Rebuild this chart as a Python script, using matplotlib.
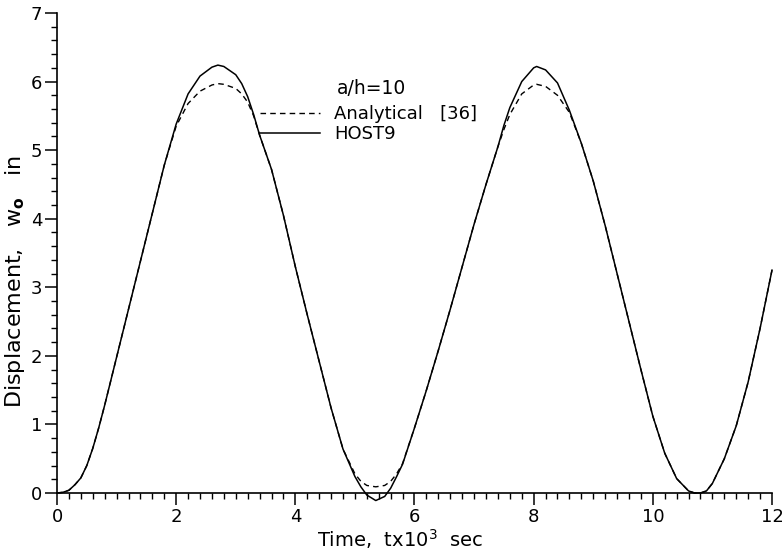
import matplotlib
matplotlib.use("Agg")
import matplotlib.pyplot as plt
from matplotlib.lines import Line2D
from matplotlib.ticker import MultipleLocator

# time, x10^3 sec
t = [0.0, 0.1, 0.2, 0.3, 0.4, 0.5, 0.6, 0.7, 0.8, 1.0, 1.2, 1.4, 1.6, 1.8, 2.0,
     2.2, 2.4, 2.6, 2.7, 2.8, 3.0, 3.1, 3.2, 3.3, 3.4, 3.6, 3.8, 4.0, 4.2, 4.4,
     4.6, 4.8, 5.0, 5.1, 5.2, 5.35, 5.5, 5.6, 5.7, 5.8, 6.0, 6.2, 6.4, 6.6, 6.8,
     7.0, 7.2, 7.4, 7.5, 7.6, 7.8, 8.0, 8.05, 8.2, 8.4, 8.6, 8.8, 9.0, 9.2, 9.4,
     9.6, 9.8, 10.0, 10.2, 10.4, 10.6, 10.7, 10.8, 10.9, 11.0, 11.2, 11.4, 11.6,
     11.8, 12.0]

# HOST9 displacement, in
host9 = [0.0, 0.01, 0.04, 0.12, 0.22, 0.40, 0.65, 0.95, 1.28, 1.98, 2.68, 3.38,
         4.08, 4.78, 5.38, 5.82, 6.08, 6.21, 6.24, 6.22, 6.10, 5.97, 5.78, 5.52,
         5.22, 4.72, 4.05, 3.30, 2.60, 1.92, 1.24, 0.64, 0.24, 0.09, -0.03, -0.11,
         -0.05, 0.07, 0.24, 0.42, 0.95, 1.50, 2.08, 2.68, 3.30, 3.92, 4.50, 5.05,
         5.36, 5.62, 6.00, 6.20, 6.22, 6.17, 5.98, 5.58, 5.10, 4.55, 3.90, 3.20,
         2.50, 1.80, 1.12, 0.58, 0.21, 0.03, 0.0, 0.0, 0.03, 0.14, 0.50, 0.98,
         1.62, 2.40, 3.25]

# Analytical [36]
analytical = [0.0, 0.01, 0.04, 0.12, 0.22, 0.40, 0.65, 0.95, 1.28, 1.98, 2.68,
              3.38, 4.08, 4.78, 5.35, 5.68, 5.86, 5.95, 5.97, 5.96, 5.90, 5.82,
              5.70, 5.50, 5.22, 4.72, 4.05, 3.30, 2.60, 1.92, 1.24, 0.64, 0.28,
              0.17, 0.11, 0.09, 0.11, 0.17, 0.28, 0.43, 0.95, 1.50, 2.08, 2.68,
              3.30, 3.92, 4.50, 5.05, 5.30, 5.52, 5.82, 5.95, 5.96, 5.93, 5.80,
              5.55, 5.10, 4.55, 3.90, 3.20, 2.50, 1.80, 1.12, 0.58, 0.21, 0.03,
              0.0, 0.0, 0.03, 0.14, 0.50, 0.98, 1.62, 2.40, 3.25]

plt.rcParams['font.family'] = ['DejaVu Sans']
plt.rcParams['mathtext.fontset'] = 'dejavusans'

fig = plt.figure(figsize=(7.82, 5.53), dpi=100)
ax = fig.add_axes([0.0729, 0.1085, 0.9143, 0.868])

ax.plot(t, analytical, color='black', lw=1.0, ls=(0, (4, 3)), clip_on=False)
ax.plot(t, host9, color='black', lw=1.1, clip_on=False)

ax.set_xlim(0, 12)
ax.set_ylim(0, 7)
ax.xaxis.set_major_locator(MultipleLocator(2))
ax.xaxis.set_minor_locator(MultipleLocator(0.2))
ax.yaxis.set_major_locator(MultipleLocator(1))
ax.yaxis.set_minor_locator(MultipleLocator(0.2))
ax.tick_params(which='major', direction='out', length=8.5, width=1.1, labelsize=13, pad=2)
ax.tick_params(which='minor', direction='out', length=4.5, width=1.0)

for s in ['top', 'right']:
    ax.spines[s].set_visible(False)
for s in ['left', 'bottom']:
    ax.spines[s].set_linewidth(1.2)

ax.set_xlabel(r'Time,  tx10$^3$  sec', fontsize=14)
ax.xaxis.set_label_coords(0.48, -0.072)
ax.set_ylabel(r'Displacement,   w$_\mathbf{o}$   in', fontsize=16)
ax.yaxis.set_label_coords(-0.042, 0.44)

handles = [Line2D([], [], color='black', lw=1.0, ls=(0, (4, 3))),
           Line2D([], [], color='black', lw=1.1)]
ax.legend(handles, ['Analytical   [36]', 'HOST9'], loc='upper left',
          bbox_to_anchor=(0.284, 0.808), frameon=False, fontsize=13,
          handlelength=3.3, handletextpad=0.8, labelspacing=0.1,
          borderpad=0, borderaxespad=0)
ax.text(0.392, 0.862, 'a/h=10', transform=ax.transAxes, fontsize=13.5,
        ha='left', va='top')

fig.savefig('out.png', dpi=100)
